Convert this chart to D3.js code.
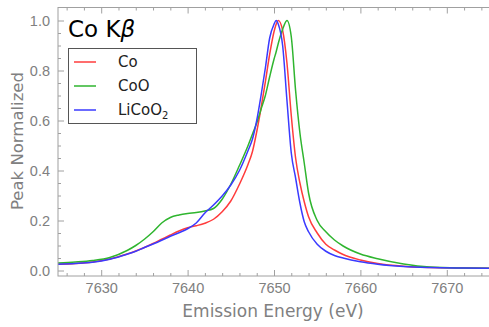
<!DOCTYPE html>
<html>
<head>
<meta charset="utf-8">
<script src="https://cdn.jsdelivr.net/npm/d3@7"></script>
<style>
  body { margin: 0; background: #fff; }
  svg { display: block; font-family: "DejaVu Sans", sans-serif; }
</style>
</head>
<body>
<svg width="489" height="327"></svg>
<script>
// emission energies (eV), shared by the three spectra
var energy = [7625, 7627, 7629, 7631, 7633, 7634, 7635, 7636, 7637, 7638, 7639, 7640, 7641, 7642, 7643, 7644, 7645, 7646, 7647,
  7647.5, 7648, 7648.5, 7649, 7649.5, 7650, 7650.25, 7650.5, 7651, 7651.5, 7652, 7652.5, 7653, 7653.5, 7654, 7655, 7656, 7657,
  7658, 7660, 7662, 7665, 7668, 7672, 7675]

var co = [0.025, 0.028, 0.034, 0.046, 0.066, 0.078, 0.092, 0.108, 0.125, 0.142, 0.158, 0.171, 0.179, 0.189, 0.205, 0.235, 0.278, 0.345, 0.425,
  0.475, 0.555, 0.65, 0.755, 0.865, 0.955, 0.985, 1.0, 0.96, 0.83, 0.62, 0.45, 0.35, 0.275, 0.215, 0.15, 0.105, 0.082,
  0.064, 0.042, 0.028, 0.017, 0.012, 0.01, 0.009]

var coo = [0.03, 0.034, 0.04, 0.052, 0.08, 0.1, 0.125, 0.155, 0.19, 0.212, 0.222, 0.228, 0.232, 0.238, 0.248, 0.285, 0.345, 0.42, 0.5,
  0.545, 0.59, 0.645, 0.70, 0.775, 0.845, 0.875, 0.909, 0.965, 1.0, 0.935, 0.72, 0.55, 0.43, 0.31, 0.2, 0.155, 0.122,
  0.098, 0.066, 0.047, 0.026, 0.014, 0.01, 0.009]

var licoo2 = [0.025, 0.028, 0.033, 0.045, 0.065, 0.077, 0.092, 0.106, 0.121, 0.137, 0.151, 0.167, 0.19, 0.23, 0.262, 0.298, 0.342, 0.40, 0.48,
  0.525, 0.6, 0.70, 0.81, 0.93, 0.985, 1.0, 0.985, 0.9, 0.68, 0.47, 0.37, 0.27, 0.195, 0.155, 0.105, 0.077, 0.06,
  0.05, 0.035, 0.025, 0.016, 0.012, 0.01, 0.009]

var names = ["Co", "CoO", "LiCoO2"]
var colors = ["#ff3c3c", "#2fb52f", "#3a3aff"]
var series = [co, coo, licoo2]

var xTicks = [7630, 7640, 7650, 7660, 7670]
var yTicks = [0.0, 0.2, 0.4, 0.6, 0.8, 1.0]

var svg = d3.select("svg")

var plot_left = 58, plot_right = 490, plot_top = 7.5, plot_bottom = 276
var frameColor = "#a0a0a0"
var textColor = "#808080"

var xScale = d3.scaleLinear().domain([7625, 7675]).range([plot_left, plot_right])
var yScale = d3.scaleLinear().domain([-0.022, 1.052]).range([plot_bottom, plot_top])

svg.append("clipPath").attr("id", "plot")
  .append("rect")
  .attr("x", plot_left).attr("y", plot_top)
  .attr("width", plot_right - plot_left).attr("height", plot_bottom - plot_top)

// curves
var line = d3.line()
  .x((d, i) => xScale(energy[i]))
  .y(d => yScale(d))
  .curve(d3.curveMonotoneX)

series.forEach(function(values, index) {
  svg.append("path")
    .attr("clip-path", "url(#plot)")
    .attr("d", line(values))
    .attr("fill", "none")
    .attr("stroke", colors[index])
    .attr("stroke-width", 1.5)
})

// frame ticks, pointing inward (minor first so the majors sit on top)
var xMinor = d3.range(7626, 7676, 2).filter(v => v % 10 != 0)
var yMinor = d3.range(0, 1.05, 0.05).filter((v, i) => i % 4 != 0)

function styleAxis(g) {
  g.select(".domain").remove()
  g.selectAll("line").attr("stroke", frameColor)
  g.selectAll("text").attr("fill", textColor).style("font-size", "14.5px")
}

svg.append("g").attr("transform", "translate(0," + plot_bottom + ")")
  .call(d3.axisBottom(xScale).tickValues(xMinor).tickSize(-3).tickFormat("")).call(styleAxis)
svg.append("g").attr("transform", "translate(0," + plot_bottom + ")")
  .call(d3.axisBottom(xScale).tickValues(xTicks).tickSize(-6).tickPadding(7).tickFormat(d3.format("d"))).call(styleAxis)

svg.append("g").attr("transform", "translate(0," + plot_top + ")")
  .call(d3.axisTop(xScale).tickValues(xMinor).tickSize(-3).tickFormat("")).call(styleAxis)
svg.append("g").attr("transform", "translate(0," + plot_top + ")")
  .call(d3.axisTop(xScale).tickValues(xTicks).tickSize(-6).tickFormat("")).call(styleAxis)

svg.append("g").attr("transform", "translate(" + plot_left + ",0)")
  .call(d3.axisLeft(yScale).tickValues(yMinor).tickSize(-3).tickFormat("")).call(styleAxis)
svg.append("g").attr("transform", "translate(" + plot_left + ",0)")
  .call(d3.axisLeft(yScale).tickValues(yTicks).tickSize(-6).tickPadding(8).tickFormat(d3.format(".1f"))).call(styleAxis)

svg.append("rect")
  .attr("x", plot_left).attr("y", plot_top)
  .attr("width", plot_right - plot_left).attr("height", plot_bottom - plot_top)
  .attr("fill", "none")
  .attr("stroke", frameColor)
  .attr("stroke-width", 1)

// axis titles
svg.append("text")
  .attr("x", 273)
  .attr("y", 317)
  .attr("text-anchor", "middle")
  .attr("fill", textColor)
  .style("font-size", "17px")
  .text("Emission Energy (eV)")

svg.append("text")
  .attr("transform", "translate(23,141) rotate(-90)")
  .attr("text-anchor", "middle")
  .attr("fill", textColor)
  .style("font-size", "16.5px")
  .text("Peak Normalized")

// title
var title = svg.append("text")
  .attr("x", 68)
  .attr("y", 37)
  .attr("fill", "#000")
  .style("font-size", "23px")
title.append("tspan").text("Co K")
title.append("tspan").style("font-style", "italic").text("β")

// legend
var legend = svg.append("g")
legend.append("rect")
  .attr("x", 68.5).attr("y", 48.5)
  .attr("width", 128).attr("height", 75)
  .attr("fill", "#fff")
  .attr("stroke", "#555")

names.forEach(function(name, index) {
  var y = 62 + index * 24
  legend.append("line")
    .attr("x1", 74).attr("x2", 96)
    .attr("y1", y).attr("y2", y)
    .attr("stroke", colors[index])
    .attr("stroke-width", 1.5)
  var label = legend.append("text")
    .attr("x", 118).attr("y", y + 5)
    .attr("fill", "#222")
    .style("font-size", "15px")
  if (name == "LiCoO2") {
    label.append("tspan").text("LiCoO")
    label.append("tspan").attr("dy", 4).style("font-size", "10px").text("2")
  } else {
    label.text(name)
  }
})
</script>
</body>
</html>
